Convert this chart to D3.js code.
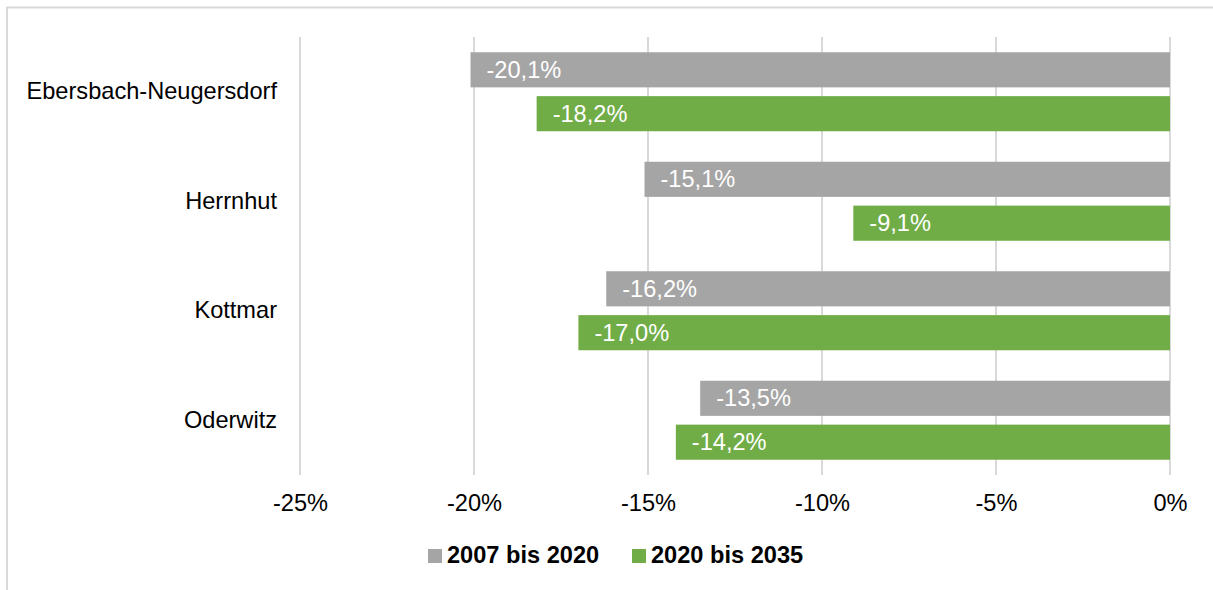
<!DOCTYPE html>
<html><head><meta charset="utf-8">
<script src="https://cdn.jsdelivr.net/npm/d3@7"></script>
<style>body{margin:0;background:#fff;}svg{display:block;font-family:"Liberation Sans",Arial,sans-serif;}</style>
</head><body>
<svg id="c" width="1213" height="590"></svg>
<script>
const categories = ["Ebersbach-Neugersdorf","Herrnhut","Kottmar","Oderwitz"];
const seriesNames = ["2007 bis 2020","2020 bis 2035"];
const series1 = [-20.1,-15.1,-16.2,-13.5];
const series2 = [-18.2,-9.1,-17.0,-14.2];
const xTicks = [-25,-20,-15,-10,-5,0];
const colors = ["#a5a5a5","#70ad47"];
const FS = 23.6;

const svg = d3.select("#c");
// chart border
svg.append("rect").attr("x",7).attr("y",7.5).attr("width",1250).attr("height",640)
  .attr("fill","none").attr("stroke","#d9d9d9").attr("stroke-width",2);

const x = d3.scaleLinear().domain([-25,0]).range([300,1170]);
const y = d3.scaleBand().domain(categories).range([37,475]);
const inner = d3.scaleBand().domain([0,1]).range([y.bandwidth()/2-39.5, y.bandwidth()/2+39.5]).paddingInner(0.2);

// gridlines
svg.append("g").selectAll("line").data(xTicks).join("line")
  .attr("x1",d=>x(d)).attr("x2",d=>x(d)).attr("y1",37).attr("y2",475)
  .attr("stroke","#d9d9d9").attr("stroke-width",2);

// tick labels via axis
const ax = svg.append("g").attr("transform","translate(0,475)")
  .call(d3.axisBottom(x).tickValues(xTicks).tickSize(0).tickPadding(19).tickFormat(d=>d+"%"));
ax.select(".domain").remove();
ax.selectAll("text").attr("font-size",FS).attr("fill","#000").attr("font-family","Liberation Sans,Arial,sans-serif");

// category labels
const ay = svg.append("g").attr("transform","translate(277,0)")
  .call(d3.axisLeft(y).tickSize(0).tickPadding(0));
ay.select(".domain").remove();
ay.selectAll("text").attr("font-size",FS).attr("fill","#000").attr("font-family","Liberation Sans,Arial,sans-serif");

const data = [];
categories.forEach((c,i)=>{
  data.push({c, s:0, v:series1[i]});
  data.push({c, s:1, v:series2[i]});
});
const fmt = v => v.toFixed(1).replace(".",",")+"%";

const bars = svg.append("g").selectAll("g").data(data).join("g");
bars.append("rect")
  .attr("x",d=>x(d.v)).attr("width",d=>x(0)-x(d.v))
  .attr("y",d=>y(d.c)+inner(d.s)).attr("height",inner.bandwidth())
  .attr("fill",d=>colors[d.s]);
bars.append("text")
  .attr("x",d=>x(d.v)+16)
  .attr("y",d=>y(d.c)+inner(d.s)+inner.bandwidth()/2+8)
  .attr("fill","#fff").attr("font-size",FS)
  .text(d=>fmt(d.v));

// legend
const legend = svg.append("g");
const lx = [428,632];
seriesNames.forEach((n,i)=>{
  legend.append("rect").attr("x",lx[i]).attr("y",549).attr("width",14).attr("height",14).attr("fill",colors[i]);
  legend.append("text").attr("x",lx[i]+19).attr("y",563).attr("font-size",FS).attr("font-weight","bold")
    .attr("fill","#000").text(n);
});
</script>
</body></html>
